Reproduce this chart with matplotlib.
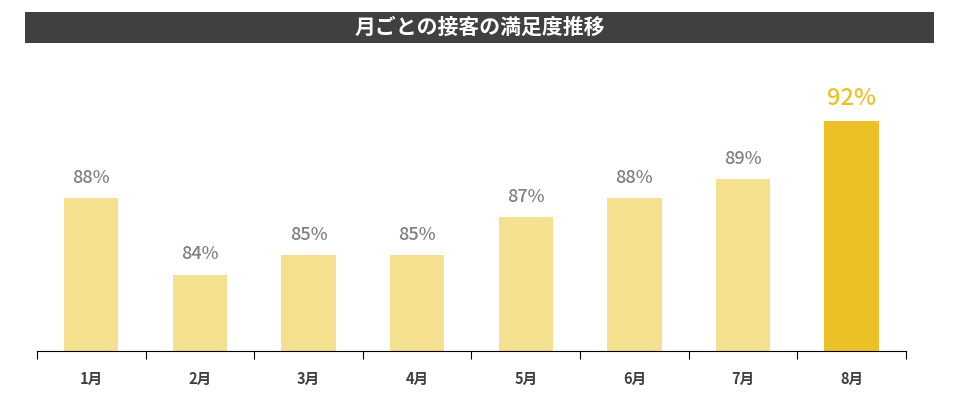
import matplotlib.pyplot as plt
from matplotlib.patches import Rectangle

plt.rcParams['font.family'] = ['Noto Sans CJK JP', 'DejaVu Sans']

months = ["1月", "2月", "3月", "4月", "5月", "6月", "7月", "8月"]
satisfaction = [88, 84, 85, 85, 87, 88, 89, 92]
highlight = 7

light = "#F5E08F"
strong = "#EBC127"

fig = plt.figure(figsize=(9.6, 3.96), dpi=100)

# title bar
fig.patches.append(Rectangle((0.026, 0.8914), 0.9469, 0.0783, transform=fig.transFigure,
                             facecolor="#404040", edgecolor="none"))
fig.text(0.4995, 0.9306, "月ごとの接客の満足度推移", color="white", fontsize=15,
         fontweight="bold", ha="center", va="center")

ax = fig.add_axes([0.0385, 0.1136, 0.9052, 0.7197])
x = list(range(len(months)))
colors = [strong if i == highlight else light for i in x]
ax.bar(x, satisfaction, width=0.5, color=colors)

for i, v in enumerate(satisfaction):
    if i == highlight:
        ax.annotate(f"{v}%", (i, v), xytext=(0, 8), textcoords="offset points",
                    ha="center", va="bottom", fontsize=17, fontweight="medium", color=strong)
    else:
        ax.annotate(f"{v}%", (i, v), xytext=(0, 8), textcoords="offset points",
                    ha="center", va="bottom", fontsize=13, fontweight="medium", color="#808080")

ax.set_ylim(80, 94.9)
ax.set_xlim(-0.5, len(months) - 0.5)
ax.set_yticks([])
for s in ["top", "right", "left"]:
    ax.spines[s].set_visible(False)
ax.spines["bottom"].set_color("black")

ax.set_xticks([i - 0.5 for i in range(len(months) + 1)])
ax.set_xticklabels([])
ax.tick_params(axis="x", which="major", length=6, color="black")
ax.set_xticks(x, minor=True)
ax.set_xticklabels(months, minor=True, fontsize=10.5, fontweight="bold", color="#404040")
ax.tick_params(axis="x", which="minor", length=0, pad=14)

fig.savefig("out.png", dpi=100)
